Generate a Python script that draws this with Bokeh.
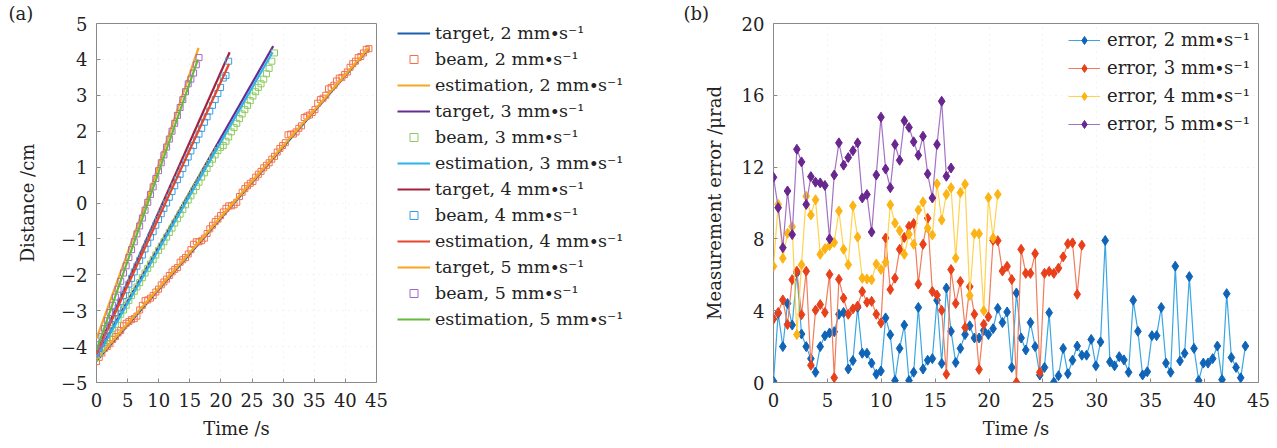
from bokeh.plotting import figure
from bokeh.models import Legend, LegendItem, FixedTicker, Range1d, Title
from bokeh.layouts import row
from bokeh.embed import file_html
from bokeh.resources import INLINE

FONT = "DejaVu Serif"
SAMPLE_DT = 0.4335  # s, sampling interval of the measurements

# ---------------- panel (a) data ----------------
target2_t = [0, 43.8]
target2_d = [-4.40, 4.30]
est2_t = [0, 43.8]
est2_d = [-4.35, 4.33]
target3_t = [0, 28.4]
target3_d = [-4.25, 4.37]
est3_t = [0, 28.3]
est3_d = [-4.30, 4.20]
target4_t = [0, 21.4]
target4_d = [-4.15, 4.20]
est4_t = [0, 21.3]
est4_d = [-4.20, 3.87]
target5_t = [0, 8.0, 16.4]
target5_d = [-3.78, 0.05, 4.32]
est5_t = [0, 16.3]
est5_d = [-4.10, 4.00]

beam2 = [-4.42, -4.30, -4.18, -4.05, -4.00, -3.92, -3.80, -3.72, -3.62, -3.55,
         -3.42, -3.35, -3.30, -3.25, -3.22, -3.15, -2.98, -2.85, -2.72, -2.70,
         -2.65, -2.58, -2.48, -2.40, -2.28, -2.20, -2.12, -2.02, -1.92, -1.85,
         -1.80, -1.65, -1.58, -1.52, -1.42, -1.30, -1.15, -1.08, -1.08, -1.05,
         -0.98, -0.85, -0.72, -0.62, -0.52, -0.45, -0.35, -0.25, -0.15, -0.08,
         -0.08, -0.05, 0.02, 0.18, 0.30, 0.40, 0.48, 0.55, 0.60, 0.72,
         0.80, 0.88, 0.98, 1.05, 1.12, 1.22, 1.30, 1.42, 1.52, 1.60,
         1.68, 1.90, 1.92, 1.92, 1.98, 2.08, 2.15, 2.38, 2.42, 2.45,
         2.52, 2.60, 2.78, 2.88, 2.92, 3.00, 3.18, 3.22, 3.28, 3.40,
         3.48, 3.50, 3.58, 3.65, 3.78, 3.88, 3.95, 4.05, 4.08, 4.18,
         4.28, 4.30]
beam3 = [-4.30, -4.18, -4.05, -3.90, -3.76, -3.62, -3.50, -3.38, -3.24, -3.10,
         -2.98, -2.85, -2.72, -2.58, -2.46, -2.34, -2.22, -2.08, -1.95, -1.82,
         -1.70, -1.58, -1.45, -1.32, -1.20, -1.08, -0.95, -0.82, -0.70, -0.56,
         -0.44, -0.31, -0.18, -0.05, 0.08, 0.20, 0.34, 0.46, 0.58, 0.72,
         0.84, 0.96, 1.10, 1.22, 1.34, 1.46, 1.55, 1.60, 1.72, 1.84,
         1.98, 2.10, 2.22, 2.35, 2.48, 2.60, 2.72, 2.85, 2.98, 3.10,
         3.22, 3.32, 3.45, 3.60, 3.75, 3.95, 4.18]
beam4 = [-4.20, -4.05, -3.90, -3.72, -3.55, -3.40, -3.22, -3.05, -2.92, -2.75,
         -2.58, -2.42, -2.26, -2.10, -1.92, -1.76, -1.60, -1.45, -1.28, -1.12,
         -0.95, -0.80, -0.62, -0.46, -0.30, -0.15, 0.00, 0.16, 0.32, 0.48,
         0.65, 0.80, 0.96, 1.12, 1.28, 1.45, 1.60, 1.76, 1.92, 2.08,
         2.25, 2.40, 2.56, 2.72, 2.88, 3.05, 3.22, 3.48, 3.55, 3.95]
beam5 = [-4.15, -3.95, -3.72, -3.50, -3.28, -3.05, -2.85, -2.62, -2.40, -2.18,
         -1.95, -1.75, -1.52, -1.30, -1.08, -0.86, -0.64, -0.42, -0.20, 0.02,
         0.24, 0.45, 0.68, 0.90, 1.12, 1.34, 1.56, 1.78, 2.00, 2.22,
         2.44, 2.66, 2.88, 3.10, 3.32, 3.45, 3.62, 3.85, 4.05]

# ---------------- panel (b) data ----------------
err2 = [0.07, 3.85, 2.0, 4.4, 3.2, 6.1, 2.7, 2.0, 1.33, 0.57,
        2.0, 2.6, 2.76, 2.83, 3.8, 3.9, 0.75, 1.22, 4.18, 1.63,
        1.63, 1.08, 0.46, 0.64, 3.6, 2.66, 0.11, 1.9, 3.2, 0.11,
        0.57, 4.18, 0.75, 1.24, 1.33, 4.58, 1.06, 5.26, 2.85, 1.11,
        1.9, 2.67, 3.16, 2.48, 2.48, 2.9, 2.67, 3.0, 4.13, 3.34,
        3.93, 0.84, 4.99, 2.48, 1.81, 3.34, 2.0, 0.42, 0.84, 3.89,
        0.02, 0.38, 1.9, 0.49, 1.24, 2.03, 1.52, 1.52, 2.4, 0.93,
        2.26, 7.91, 1.15, 0.93, 1.44, 1.26, 0.57, 4.58, 2.85, 0.42,
        0.6, 2.61, 2.61, 4.18, 1.08, 0.57, 6.48, 1.2, 1.63, 5.9,
        1.9, 0.11, 1.08, 1.08, 1.33, 2.03, 0.16, 4.95, 1.39, 0.84,
        0.26, 2.03]
err3 = [3.54, 3.9, 4.6, 3.23, 5.73, 6.2, 3.78, 6.2, 0.96, 4.03,
        4.34, 3.9, 6.02, 0.27, 5.75, 4.7, 3.8, 4.1, 4.26, 5.07,
        4.47, 4.52, 3.8, 3.32, 8.05, 5.18, 5.81, 7.42, 8.08, 8.7,
        8.86, 5.48, 7.7, 9.15, 5.07, 4.87, 4.02, 0.46, 6.29, 4.4,
        5.63, 3.06, 5.34, 3.8, 0.73, 3.24, 3.66, 7.92, 7.9, 6.21,
        6.47, 5.74, 0.01, 7.42, 6.08, 6.08, 7.18, 0.57, 6.08, 6.19,
        6.08, 6.37, 7.0, 7.73, 7.78, 4.91, 7.65]
err4 = [6.47, 9.92, 6.92, 8.31, 8.68, 2.67, 6.56, 10.37, 9.33, 10.18,
        7.14, 7.45, 7.63, 7.8, 9.55, 7.42, 6.56, 9.84, 8.1, 5.81,
        5.77, 5.72, 6.6, 6.3, 6.7, 9.9, 8.88, 8.46, 7.14, 8.26,
        7.7, 9.61, 10.06, 8.6, 8.22, 11.07, 9.05, 10.48, 10.85, 6.93,
        10.58, 11.05, 4.85, 8.29, 8.29, 4.0, 10.3, 8.05, 10.48]
err5 = [11.43, 9.74, 7.51, 10.67, 8.24, 12.99, 12.29, 9.92, 11.47, 11.16,
        11.12, 10.98, 8.0, 11.56, 13.35, 12.11, 12.53, 12.91, 13.35, 10.28,
        10.47, 8.38, 11.56, 14.78, 11.89, 10.85, 13.26, 12.38, 14.58, 14.21,
        13.41, 12.66, 13.72, 11.62, 10.28, 13.26, 15.67, 11.49, 11.95]

SPEEDS = ["2", "3", "4", "5"]
UNIT = " mm\u2219s\u207b\u00b9"
INK = "#222222"


def times(vals):
    return [round(i * SAMPLE_DT, 4) for i in range(len(vals))]


def panel_title(text, offset):
    return Title(text=text, align="left", offset=offset, standoff=0,
                 text_font=FONT, text_font_size="18px", text_font_style="normal",
                 text_color=INK, text_line_height=0.75)


def style(p, xticks, yticks, overrides=None):
    p.outline_line_color = "#8a8a8a"
    p.outline_line_width = 1
    p.background_fill_color = "white"
    p.border_fill_color = "white"
    for ax in (p.xaxis[0], p.yaxis[0]):
        ax.axis_line_color = None
        ax.major_tick_in = 4
        ax.major_tick_out = 0
        ax.minor_tick_line_color = None
        ax.major_tick_line_color = "#8a8a8a"
        ax.major_label_text_font = FONT
        ax.major_label_text_font_size = "18px"
        ax.major_label_text_color = INK
        ax.axis_label_text_font = FONT
        ax.axis_label_text_font_size = "18px"
        ax.axis_label_text_font_style = "normal"
        ax.axis_label_text_color = INK
    p.xaxis.ticker = FixedTicker(ticks=xticks)
    p.yaxis.ticker = FixedTicker(ticks=yticks)
    p.xaxis.major_label_standoff = 10
    p.yaxis.major_label_standoff = 9
    if overrides:
        p.yaxis.major_label_overrides = overrides
    p.grid.grid_line_color = "#e9e9e9"
    p.grid.grid_line_dash = "1 5"


# ---------------- figure (a) ----------------
pa = figure(width=390, height=448, x_range=Range1d(0, 45), y_range=Range1d(-5, 5),
            output_backend="svg", toolbar_location=None, title=None,
            min_border_left=96, min_border_right=14, min_border_top=0, min_border_bottom=66)
pa.add_layout(panel_title("(a)", -88), "above")
style(pa, list(range(0, 46, 5)), list(range(-5, 6)),
      {v: ("\u2212" + str(-v)) if v < 0 else str(v) for v in range(-5, 6)})
pa.xaxis.axis_label = "Time /s"
pa.yaxis.axis_label = "Distance /cm"
pa.yaxis.axis_label_standoff = 20
pa.xaxis.axis_label_standoff = 8

# legend holder for panel (a): a bare canvas right of the frame whose ranges
# keep the proxy glyphs out of view (only the legend is seen)
pl = figure(width=290, height=448, x_range=Range1d(-1000, -999), y_range=Range1d(-1000, -999),
            output_backend="svg", toolbar_location=None, x_axis_type=None,
            y_axis_type=None, min_border_left=7, min_border_right=0,
            min_border_top=22, min_border_bottom=0)
pl.outline_line_color = None
pl.grid.visible = False

series_a = [
    ("target", "line", target2_t, target2_d, "#1a5fb0"),
    ("beam", "sq", times(beam2), beam2, "#f2714a"),
    ("estimation", "line", est2_t, est2_d, "#f7a823"),
    ("target", "line", target3_t, target3_d, "#6a2c91"),
    ("beam", "sq", times(beam3), beam3, "#8ccb5e"),
    ("estimation", "line", est3_t, est3_d, "#2ab4ee"),
    ("target", "line", target4_t, target4_d, "#a3223c"),
    ("beam", "sq", times(beam4), beam4, "#3a9ee0"),
    ("estimation", "line", est4_t, est4_d, "#e8462a"),
    ("target", "line", target5_t, target5_d, "#f9a61c"),
    ("beam", "sq", times(beam5), beam5, "#a468c4"),
    ("estimation", "line", est5_t, est5_d, "#68b83e"),
]
items_a = []
for k, (name, kind, xs, ys, col) in enumerate(series_a):
    sp = SPEEDS[k // 3]
    if kind == "line":
        pa.line(xs, ys, line_color=col, line_width=2.2)
        proxy = pl.line(xs, ys, line_color=col, line_width=2.2)
    else:
        pa.scatter(xs, ys, marker="square", size=6, fill_color=None,
                   line_color=col, line_width=1)
        proxy = pl.scatter(xs, ys, marker="square", size=4.5, fill_color=None,
                           line_color=col, line_width=1)
    items_a.append(LegendItem(label=f"{name}, {sp}{UNIT}", renderers=[proxy]))

leg_a = Legend(items=items_a, location="top_left", margin=0, padding=0,
               spacing=6, label_height=20, glyph_height=20, glyph_width=33,
               label_standoff=5, label_text_font=FONT, label_text_font_size="17.5px",
               label_text_color=INK, border_line_color=None,
               background_fill_alpha=0)
pl.add_layout(leg_a)

# ---------------- figure (b) ----------------
pb = figure(width=597, height=448, x_range=Range1d(0, 45), y_range=Range1d(0, 20),
            output_backend="svg", toolbar_location=None,
            min_border_left=93, min_border_right=19, min_border_top=0, min_border_bottom=66)
pb.add_layout(panel_title("(b)", -90), "above")
style(pb, list(range(0, 46, 5)), [0, 4, 8, 12, 16, 20])
pb.xaxis.axis_label = "Time /s"
pb.yaxis.axis_label = "Measurement error /\u03bcrad"
pb.yaxis.axis_label_standoff = 14
pb.xaxis.axis_label_standoff = 8

series_b = [
    (err2, "#3aa6e2", "#1064b8"),
    (err3, "#f27c5c", "#e8401a"),
    (err4, "#ffd34e", "#fcb414"),
    (err5, "#a472c4", "#68268e"),
]
items_b = []
for k, (vals, lc, mc) in enumerate(series_b):
    t = times(vals)
    r1 = pb.line(t, vals, line_color=lc, line_width=1.2)
    r2 = pb.scatter(t, vals, marker="diamond", size=10, fill_color=mc, line_color=mc)
    items_b.append(LegendItem(label=f"error, {SPEEDS[k]}{UNIT}", renderers=[r1, r2]))

leg_b = Legend(items=items_b, location=(295, 248), margin=0, padding=5,
               spacing=7, label_height=20, glyph_height=20, glyph_width=32,
               label_standoff=7, label_text_font=FONT, label_text_font_size="18px",
               label_text_color=INK, border_line_color=None,
               background_fill_alpha=0)
pb.add_layout(leg_b)

layout = row(pa, pl, pb, spacing=0)
open("out.html", "w").write(file_html(layout, INLINE))
